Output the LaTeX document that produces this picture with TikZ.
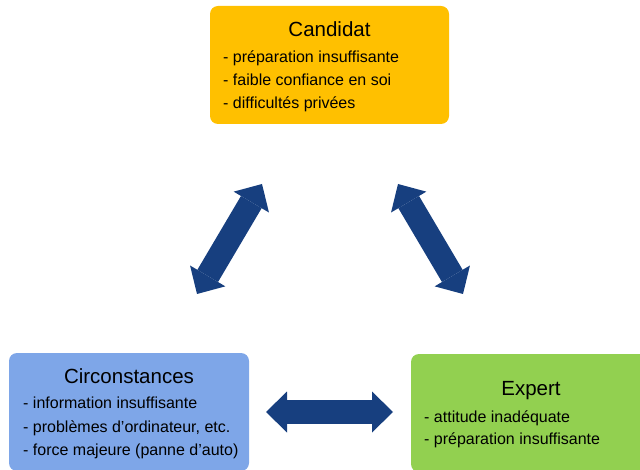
\documentclass[tikz,border=0pt]{standalone}
\usepackage{fontspec}
\setmainfont{Liberation Sans}
\usetikzlibrary{arrows.meta}
\definecolor{cand}{HTML}{FFC000}
\definecolor{circ}{HTML}{7EA6E8}
\definecolor{expe}{HTML}{92D050}
\definecolor{arrblue}{HTML}{173F7F}
\tikzset{
  box/.style={rounded corners=8pt, draw=none, minimum width=239pt, minimum height=118pt, inner sep=0pt},
  title/.style={anchor=base, inner sep=0pt, font=\fontsize{20.5}{24}\selectfont},
  item/.style={anchor=base west, inner sep=0pt, font=\fontsize{16}{22}\selectfont},
  bigarrow/.style={arrblue, line width=24pt,
    {Triangle[length=21pt,width=41pt,line width=0pt]}-{Triangle[length=21pt,width=41pt,line width=0pt]}}
}
\begin{document}
\begin{tikzpicture}[x=1pt,y=1pt]
\useasboundingbox (0,0) rectangle (640,469);
% boxes
\node[box, fill=cand] (cand) at (329.5,404) {};
\node[box, fill=circ, minimum width=240pt] (circ) at (129,57) {};
\node[box, fill=expe, minimum width=240pt] (expe) at (531,56) {};
% Candidat text
\node[title] (candT) at (329.5,432) {Candidat};
\node[item] (cand1) at (223,406) {- préparation insuffisante};
\node[item] (cand2) at (223,383) {- faible confiance en soi};
\node[item] (cand3) at (223,360) {- difficultés privées};
% Circonstances text
\node[title] (circT) at (129,86) {Circonstances};
\node[item] (circ1) at (23,61) {- information insuffisante};
\node[item] (circ2) at (23,37) {- problèmes d’ordinateur, etc.};
\node[item] (circ3) at (23,14) {- force majeure (panne d’auto)};
% Expert text
\node[title] (expeT) at (531,74) {Expert};
\node[item] (expe1) at (424,47) {- attitude inadéquate};
\node[item] (expe2) at (424,25) {- préparation insuffisante};
% arrows
\coordinate (a1s) at (262,285);
\coordinate (a1e) at (197,175);
\coordinate (a2s) at (398,285);
\coordinate (a2e) at (463,175);
\coordinate (a3s) at (266,57);
\coordinate (a3e) at (393,57);
\draw[bigarrow] (a1s) -- (a1e);
\draw[bigarrow] (a2s) -- (a2e);
\draw[bigarrow] (a3s) -- (a3e);
\end{tikzpicture}
\end{document}
